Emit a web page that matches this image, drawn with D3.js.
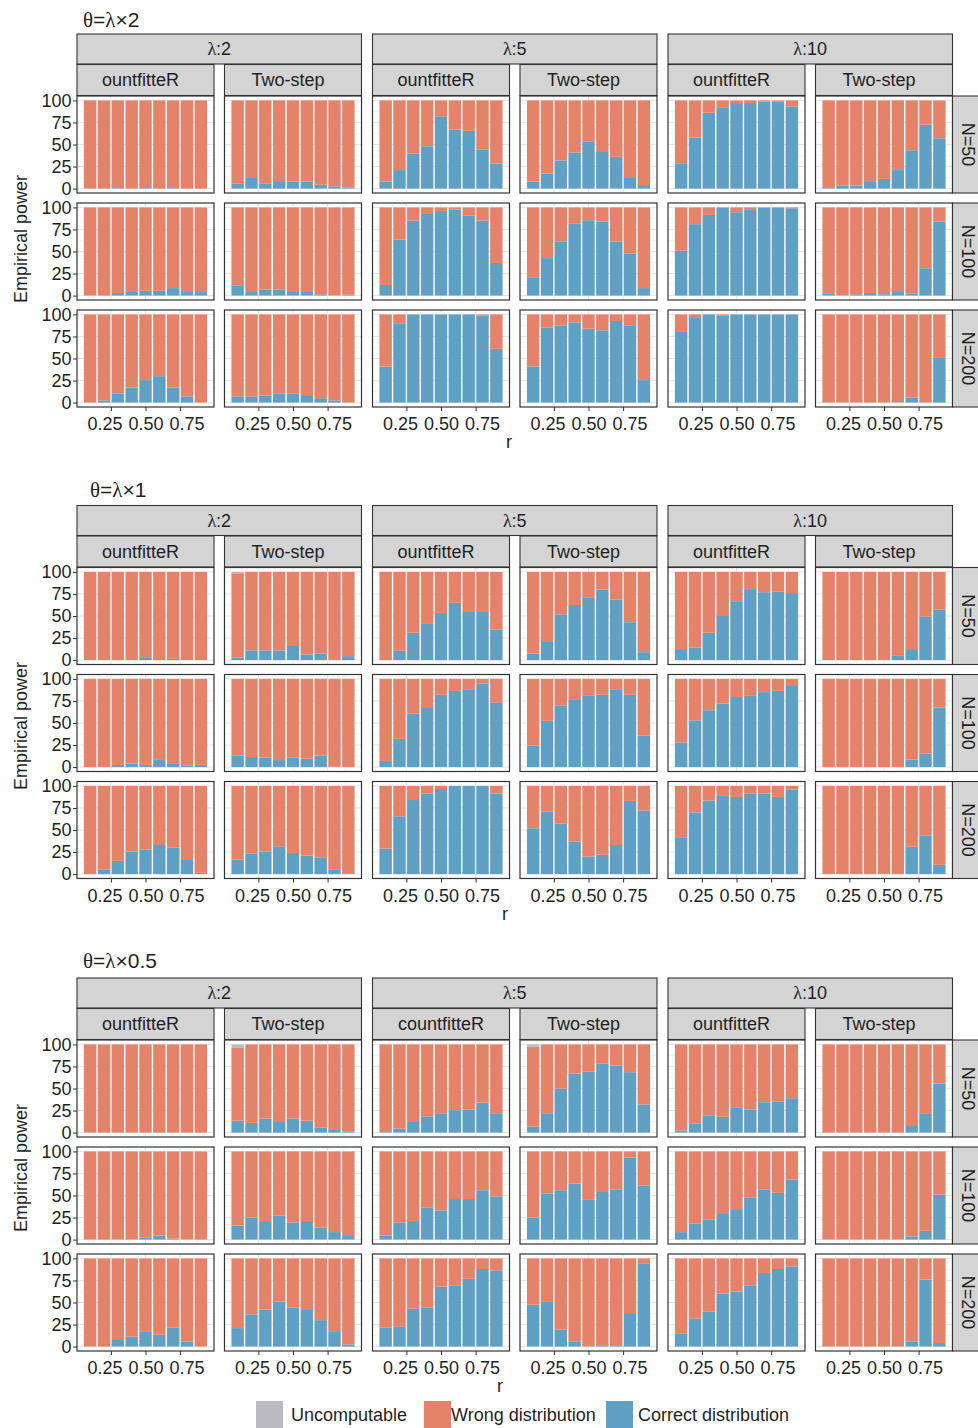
<!DOCTYPE html>
<html>
<head>
<meta charset="utf-8">
<script src="https://cdn.jsdelivr.net/npm/d3@7"></script>
<style>
  body { margin: 0; background: #fff; }
  svg { display: block; }
  text { font-family: "Liberation Sans", Arial, Helvetica, sans-serif; }
</style>
</head>
<body>
<svg id="chart" width="978" height="1428"></svg>
<script>
// ---------------- data ----------------
const blockTitles = ["θ=λ×2", "θ=λ×1", "θ=λ×0.5"];
const lambdaLabels = ["λ:2", "λ:5", "λ:10"];
const methodLabels = [
  ["ountfitteR", "Two-step", "ountfitteR", "Two-step", "ountfitteR", "Two-step"],
  ["ountfitteR", "Two-step", "ountfitteR", "Two-step", "ountfitteR", "Two-step"],
  ["ountfitteR", "Two-step", "countfitteR", "Two-step", "ountfitteR", "Two-step"]
];
const sampleLabels = ["N=50", "N=100", "N=200"];
const rValues = [0.1, 0.2, 0.3, 0.4, 0.5, 0.6, 0.7, 0.8, 0.9];
const xTicks = [0.25, 0.50, 0.75];
const yTicks = [0, 25, 50, 75, 100];
const outcomeKeys = ["correct", "wrong", "uncomputable"];
const outcomeLabels = ["Uncomputable", "Wrong distribution", "Correct distribution"];

// Correct-distribution percentage; columns: λ2 countfitteR, λ2 Two-step, λ5 countfitteR,
// λ5 Two-step, λ10 countfitteR, λ10 Two-step; rows inside: N=50, N=100, N=200
const correctTheta2 = [
  [[0,0,0.5,0,0.5,0,0.5,0,0], [0,0,3,5,5.5,5.5,8.5,4,4], [0,2.5,10,17,25.5,30,17,7,0]],
  [[6,12,6,7.5,8,8,4.5,2.5,1], [11,4,7,7,5,5,1.5,0,1], [7,7,8,10.5,10.5,8.5,5,2.5,0]],
  [[8,21,40,48,82,67,65.5,44,28.5], [12,63.5,85,93.5,96,97.5,91,85,37], [41,90,100,100,100,100,100,98.5,61]],
  [[8,17,32,41,53,41.5,36,12,4], [20,42.5,61,82,85.5,84,61.5,47.5,8.5], [41,85,87.5,91,84,82,92.5,87,25.5]],
  [[28,58,86,91.5,97,97,98.5,98.5,93], [51,81,91.5,100,94.5,97,100,100,99], [81,96,100,99,100,100,100,100,100]],
  [[0.5,3.5,3.5,7.5,11,21,43.5,72.5,57], [2,0,1.5,3,1.5,4,2.5,31,84], [0,0,0,0,0,0.5,5.5,0,51.5]]
];
const correctTheta1 = [
  [[0,0,0,0,2.5,0,1.5,0,0], [0,0,2.5,4,2.5,9,4.5,1.5,2.5], [0,5,15,25.5,28,33,30,17,1.5]],
  [[3,11,11,11,17,6.5,7.5,1,4.5], [13,11.5,11,8,11,9.5,13,0.5,0], [16.5,23,25.5,31.5,24,21,19,5.5,1]],
  [[0,10.5,31,41,53.5,65,55.5,55.5,34.5], [7,32,61,68,82,86.5,87.5,94.5,73.5], [29,65.5,84,91.5,96.5,100,100,100,91.5]],
  [[7.5,21.5,52,62.5,70.5,80,68.5,43,9], [24.5,52.5,70,77,81.5,82,87.5,82,35.5], [52,71,57.5,37,20,22,33,83,72]],
  [[12.5,14,31,50,66,79.5,77,78,76], [28,53,64.5,72,79.5,81.5,85,86.5,93], [41,70,83.5,89.5,87.5,91.5,91.5,87.5,96]],
  [[0,0,0,0,0,5.5,12.5,49.5,57.5], [0,0,0,0,0,0,8.5,15.5,67.5], [0,0,0,0,0,0,31,44,10.5]]
];
const correctTheta05 = [
  [[0,0,0,0,0,0,0,0,0], [0,0,0,0,2.5,4.5,1,0,0], [0,0,8.5,11.5,17.5,13.5,21.5,5.5,0]],
  [[13.5,11,16,13,16,13.5,5.5,3,1.5], [16,25,21,27,19.5,21,13.5,8.5,4], [21,36.5,42,51,44.5,41.5,30,16.5,2.5]],
  [[0.5,4.5,13,18.5,22,25.5,26,34,22], [4.5,19.5,21,36,33,46,46,56,49], [21.5,23,43,44,68,69.5,77,88,86.5]],
  [[7,22,50,67,69.5,78,76,68.5,32], [25,52,56,63.5,45,54,57,93,61.5], [47.5,51.5,19.5,5.5,0,1.5,1.5,38,94.5]],
  [[2.5,10.5,19,18,28,26,34.5,35.5,39], [8.5,18,23,29,33.5,48,57,53,68], [14.5,32,39.5,60,62.5,69.5,83.5,88,91]],
  [[0,0,0,0,0,0,7.5,22,55.5], [0,0,0,0,0,0,3.5,10,51], [0,0,0,0,0,0,6,76,4]]
];
const correctByBlock = [correctTheta2, correctTheta1, correctTheta05];

// Uncomputable percentage: [block, column, row, bar index, value]
const uncomputable = [
  [1, 1, 0, 0, 1.5],
  [2, 1, 0, 0, 4],
  [2, 3, 0, 0, 2.5]
];

// ---------------- layout & style ----------------
const colors = { correct: "#5FA0C4", wrong: "#E5826A", uncomputable: "#BBBAC2" };
const stripFill = "#D4D4D4", frame = "#333333", ink = "#1f1f1f";
const blockTop = [34, 505.5, 978];
const titleX = [83, 90, 83], titleY = [27, 497, 968];
const yLabelCenter = [239, 726, 1168];
const rLabelX = [509, 505, 500];
const PW = 137, PH = 97, rowStep = 107;
const panelLeft = c => 77 + Math.floor(c / 2) * 295.5 + (c % 2) * 147.5;
const FS = 18;
const tickLabelSpread = 6.5;   // extra spacing between x tick labels

const svg = d3.select("#chart");

const x = d3.scaleLinear().domain([0.005, 0.995]).range([0, PW]);
const y = d3.scaleLinear().domain([-5, 105]).range([PH, 0]);
const stack = d3.stack().keys(outcomeKeys);

// Writes text, setting Greek letters in a serif face
function richText(sel, str) {
  const runs = str.match(/[θλ]+|[^θλ]+/g);
  runs.forEach(run => {
    const t = sel.append("tspan").text(run);
    if (/[θλ]/.test(run)) t.style("font-family", '"Liberation Serif", "DejaVu Serif", serif');
  });
  return sel;
}

blockTitles.forEach((title, b) => {
  const T = blockTop[b];
  const g = svg.append("g");

  // block title
  richText(g.append("text").attr("x", titleX[b]).attr("y", titleY[b])
    .attr("font-size", 21).attr("fill", ink), title);

  // λ strips
  lambdaLabels.forEach((lab, li) => {
    const x0 = panelLeft(li * 2), x1 = panelLeft(li * 2 + 1) + PW;
    g.append("rect").attr("x", x0).attr("y", T).attr("width", x1 - x0).attr("height", 30)
      .attr("fill", stripFill).attr("stroke", frame).attr("stroke-width", 1.1);
    richText(g.append("text").attr("x", (x0 + x1) / 2).attr("y", T + 15).attr("dy", "0.35em")
      .attr("text-anchor", "middle").attr("font-size", 18).attr("fill", ink), lab);
  });

  // method strips
  methodLabels[b].forEach((lab, c) => {
    const x0 = panelLeft(c);
    g.append("rect").attr("x", x0).attr("y", T + 30.5).attr("width", PW).attr("height", 31)
      .attr("fill", stripFill).attr("stroke", frame).attr("stroke-width", 1.1);
    const shift = lab === "countfitteR" ? 0 : -5;
    g.append("text").attr("x", x0 + PW / 2 + shift).attr("y", T + 46).attr("dy", "0.35em")
      .attr("text-anchor", "middle").attr("font-size", FS).attr("fill", ink).text(lab);
  });

  // panels
  correctByBlock[b].forEach((colRows, c) => {
    colRows.forEach((vals, n) => {
      const px = panelLeft(c), py = T + 62 + n * rowStep;
      const p = g.append("g").attr("transform", `translate(${px},${py})`);
      p.append("rect").attr("width", PW).attr("height", PH).attr("fill", "#fff");

      // grid
      [12.5, 37.5, 62.5, 87.5].forEach(v => p.append("line").attr("x1", 0).attr("x2", PW)
        .attr("y1", y(v)).attr("y2", y(v)).attr("stroke", "#F2F2F2").attr("stroke-width", 0.6));
      [0.125, 0.375, 0.625, 0.875].forEach(v => p.append("line").attr("y1", 0).attr("y2", PH)
        .attr("x1", x(v)).attr("x2", x(v)).attr("stroke", "#F2F2F2").attr("stroke-width", 0.6));
      yTicks.forEach(v => p.append("line").attr("x1", 0).attr("x2", PW)
        .attr("y1", y(v)).attr("y2", y(v)).attr("stroke", "#E6E6E6").attr("stroke-width", 1));
      xTicks.forEach(v => p.append("line").attr("y1", 0).attr("y2", PH)
        .attr("x1", x(v)).attr("x2", x(v)).attr("stroke", "#E6E6E6").attr("stroke-width", 1));

      // stacked bars
      const rows = rValues.map((r, i) => {
        const u = uncomputable.filter(e => e[0] === b && e[1] === c && e[2] === n && e[3] === i)
          .reduce((s, e) => s + e[4], 0);
        return { r, correct: vals[i], uncomputable: u, wrong: 100 - vals[i] - u };
      });
      const series = stack(rows);
      series.forEach(s => {
        p.append("g").attr("fill", colors[s.key]).selectAll("rect")
          .data(s.filter(d => d[1] - d[0] > 0))
          .join("rect")
          .attr("x", d => x(d.data.r - 0.05) + 0.7)
          .attr("width", d => x(d.data.r + 0.05) - x(d.data.r - 0.05) - 1.4)
          .attr("y", d => y(d[1]))
          .attr("height", d => y(d[0]) - y(d[1]));
      });

      p.append("rect").attr("width", PW).attr("height", PH).attr("fill", "none")
        .attr("stroke", frame).attr("stroke-width", 1.2);

      // y axis on first column
      if (c === 0) {
        const ax = p.append("g").call(d3.axisLeft(y).tickValues(yTicks).tickSize(4).tickPadding(1.5));
        ax.select(".domain").remove();
        ax.selectAll("line").attr("stroke", frame);
        ax.selectAll("text").attr("font-size", FS).attr("fill", ink)
          .style("font-family", '"Liberation Sans", Arial, sans-serif');
      }
      // x axis on bottom row
      if (n === 2) {
        const ax = p.append("g").attr("transform", `translate(0,${PH})`)
          .call(d3.axisBottom(x).tickValues(xTicks).tickFormat(d3.format(".2f")).tickSize(4).tickPadding(6.5));
        ax.select(".domain").remove();
        ax.selectAll("line").attr("stroke", frame);
        ax.selectAll("text").attr("font-size", FS).attr("fill", ink)
          .attr("dx", (d, i) => (i - 1) * tickLabelSpread)
          .style("font-family", '"Liberation Sans", Arial, sans-serif');
      }
      // N strips on the right
      if (c === 5) {
        g.append("rect").attr("x", px + PW).attr("y", py).attr("width", 34).attr("height", PH)
          .attr("fill", stripFill).attr("stroke", frame).attr("stroke-width", 1.1);
        g.append("text").attr("transform", `translate(${px + PW + 16},${py + PH / 2}) rotate(90)`)
          .attr("dy", "0.35em").attr("text-anchor", "middle").attr("font-size", 18)
          .attr("fill", ink).text(sampleLabels[n]);
      }
    });
  });

  // axis titles
  const bottom = T + 62 + 2 * rowStep + PH;
  g.append("text").attr("x", rLabelX[b]).attr("y", bottom + 41).attr("text-anchor", "middle")
    .attr("font-size", FS).attr("fill", ink).text("r");
  g.append("text").attr("transform", `translate(27,${yLabelCenter[b]}) rotate(-90)`)
    .attr("text-anchor", "middle").attr("font-size", FS).attr("fill", ink).text("Empirical power");
});

// legend
const legendSquareX = [256, 424, 606];
const legendTextX = [291, 451, 638];
const legendColors = [colors.uncomputable, colors.wrong, colors.correct];
const leg = svg.append("g");
outcomeLabels.forEach((lab, i) => {
  leg.append("rect").attr("x", legendSquareX[i]).attr("y", 1401).attr("width", 27).attr("height", 27)
    .attr("fill", legendColors[i]);
  leg.append("text").attr("x", legendTextX[i]).attr("y", 1421).attr("font-size", FS)
    .attr("fill", ink).text(lab);
});
</script>
</body>
</html>
